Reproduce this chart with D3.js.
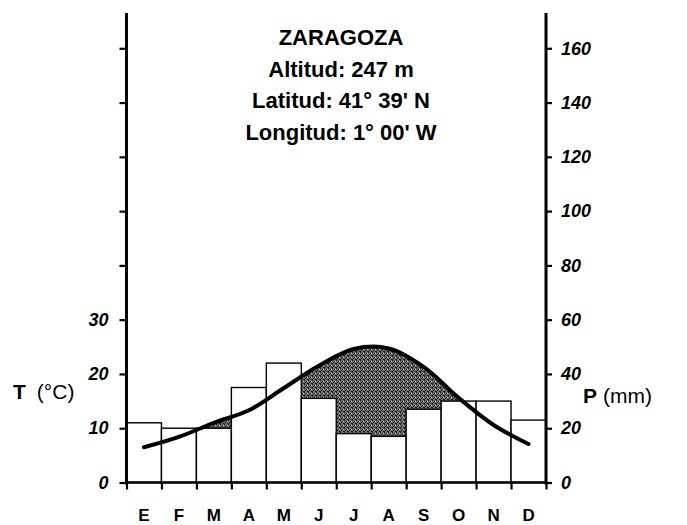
<!DOCTYPE html>
<html>
<head>
<meta charset="utf-8">
<script src="https://cdn.jsdelivr.net/npm/d3@7"></script>
<style>
  body { margin: 0; background: #fff; }
  svg { display: block; font-family: "Liberation Sans", Arial, sans-serif; }
</style>
</head>
<body>
<div id="chart"></div>
<script>
const months = ["E", "F", "M", "A", "M", "J", "J", "A", "S", "O", "N", "D"];
const precip = [22, 20, 20, 35, 44, 31, 18, 17, 27, 30, 30, 23];
const temp = [6.5, 8.4, 11.0, 13.3, 17.4, 21.5, 24.6, 24.7, 21.3, 15.6, 10.6, 7.1];
const tTicks = [0, 10, 20, 30, 40, 50, 60, 70, 80];
const pTicks = [0, 20, 40, 60, 80, 100, 120, 140, 160];
const titleLines = ["ZARAGOZA", "Altitud: 247 m", "Latitud: 41° 39' N", "Longitud: 1° 00' W"];

const W = 687, H = 525;
const xLeft = 126.5, xRight = 546, yBase = 482.5, yTop = 13;

const svg = d3.select("#chart").append("svg")
    .attr("width", W).attr("height", H);

// stipple pattern for the dry period
const defs = svg.append("defs");
const pat = defs.append("pattern").attr("id", "dots")
    .attr("width", 4).attr("height", 4).attr("patternUnits", "userSpaceOnUse");
pat.append("rect").attr("width", 4).attr("height", 4).attr("fill", "#6e6e6e");
[[0,0],[2,1],[1,2],[3,3],[0,3]].forEach(([a,b]) =>
    pat.append("rect").attr("x", a).attr("y", b).attr("width", 1).attr("height", 1).attr("fill", "#1a1a1a"));
pat.append("rect").attr("x", 3).attr("y", 1).attr("width", 1).attr("height", 1).attr("fill", "#c8c8c8");

const x = d3.scaleBand().domain(d3.range(12)).range([xLeft, xRight]).padding(0);
const xl = d3.scaleLinear().domain([0, 12]).range([xLeft, xRight]);
const yT = d3.scaleLinear().domain([0, 86.5]).range([yBase, yTop]);
const yP = d3.scaleLinear().domain([0, 173]).range([yBase, yTop]);

const cx = i => x(i) + x.bandwidth() / 2;
const curve = d3.curveCatmullRom.alpha(0.5);

// area under the temperature curve, bars cover the humid part
svg.append("path")
    .datum(temp)
    .attr("fill", "url(#dots)")
    .attr("d", d3.area().curve(curve)
        .x((d, i) => cx(i)).y0(yBase).y1(d => yT(d)));

svg.append("g")
    .selectAll("rect")
    .data(precip)
    .join("rect")
    .attr("x", (d, i) => x(i))
    .attr("y", d => yP(d))
    .attr("width", x.bandwidth())
    .attr("height", d => yBase - yP(d))
    .attr("fill", "#fff")
    .attr("stroke", "#000")
    .attr("stroke-width", 1.4);

svg.append("path")
    .datum(temp)
    .attr("fill", "none")
    .attr("stroke", "#000")
    .attr("stroke-width", 4)
    .attr("stroke-linecap", "round")
    .attr("d", d3.line().curve(curve)
        .x((d, i) => cx(i)).y(d => yT(d)));

// axes
const styleAxis = g => {
    g.select(".domain").remove();
    g.selectAll(".tick line").attr("stroke", "#000").attr("stroke-width", 2.2);
};
const styleLabels = sel => sel.attr("font-size", 18).attr("font-weight", "bold")
    .attr("fill", "#000").attr("font-family", "Liberation Sans, Arial, sans-serif");

const gl = svg.append("g").attr("transform", `translate(${xLeft},0)`)
    .call(d3.axisLeft(yT).tickValues(tTicks).tickSize(7).tickPadding(11)
        .tickFormat(d => d <= 30 ? d : ""))
    .call(styleAxis);
gl.selectAll("text").call(styleLabels).attr("font-style", "italic");

const gr = svg.append("g").attr("transform", `translate(${xRight},0)`)
    .call(d3.axisRight(yP).tickValues(pTicks).tickSize(6).tickPadding(9))
    .call(styleAxis);
gr.selectAll("text").call(styleLabels).attr("font-style", "italic");

svg.append("g").attr("transform", `translate(0,${yBase})`)
    .call(d3.axisBottom(xl).tickValues(d3.range(13)).tickSize(7).tickFormat(""))
    .call(styleAxis);

svg.append("g").attr("transform", `translate(0,${yBase})`)
    .call(d3.axisBottom(x).tickSize(0).tickPadding(26).tickFormat(i => months[i]))
    .call(g => g.select(".domain").remove())
    .selectAll("text").call(styleLabels).attr("font-size", 17);

// axis lines
svg.append("line").attr("x1", xLeft).attr("x2", xLeft).attr("y1", yTop).attr("y2", yBase + 2)
    .attr("stroke", "#000").attr("stroke-width", 3);
svg.append("line").attr("x1", xRight).attr("x2", xRight).attr("y1", yTop).attr("y2", yBase + 2)
    .attr("stroke", "#000").attr("stroke-width", 3);
svg.append("line").attr("x1", xLeft - 1).attr("x2", xRight + 1).attr("y1", yBase).attr("y2", yBase)
    .attr("stroke", "#000").attr("stroke-width", 2.5);

// title block
svg.append("g").selectAll("text")
    .data(titleLines)
    .join("text")
    .attr("x", 341)
    .attr("y", (d, i) => 45 + i * 31.5)
    .attr("text-anchor", "middle")
    .attr("font-size", 22)
    .attr("font-weight", "bold")
    .text(d => d);

// axis titles
const tl = svg.append("text").attr("x", 13).attr("y", 399).attr("font-size", 21);
tl.append("tspan").attr("font-weight", "bold").text("T");
tl.append("tspan").attr("dx", 11).text("(°C)");

const pl = svg.append("text").attr("x", 583).attr("y", 403).attr("font-size", 21);
pl.append("tspan").attr("font-weight", "bold").text("P");
pl.append("tspan").attr("dx", 6).text("(mm)");
</script>
</body>
</html>
